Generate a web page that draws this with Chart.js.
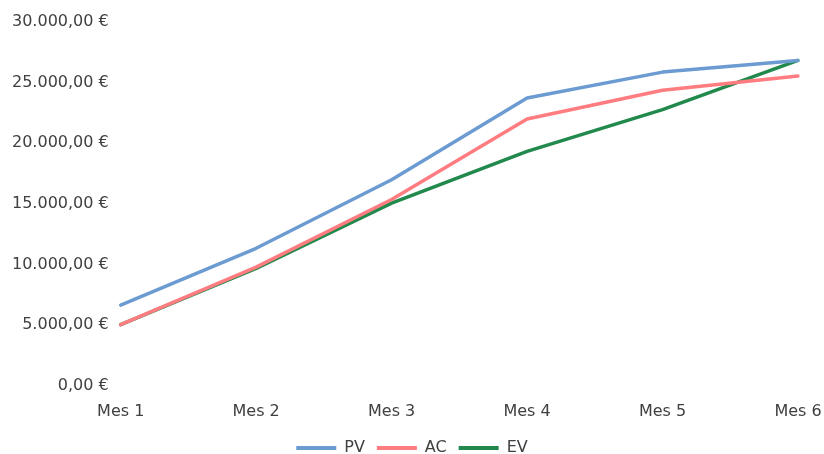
<!DOCTYPE html>
<html>
<head>
<meta charset="utf-8">
<script src="https://cdn.jsdelivr.net/npm/chart.js@4/dist/chart.umd.min.js"></script>
<style>
  html, body { margin: 0; padding: 0; background: #ffffff; }
  #wrap { width: 824px; height: 454px; position: relative; }
</style>
</head>
<body>
<div id="wrap"><canvas id="c" width="824" height="454"></canvas></div>
<script>
// Project cost tracking per month (earned value analysis)
const months = ['Mes 1', 'Mes 2', 'Mes 3', 'Mes 4', 'Mes 5', 'Mes 6'];
const pv = [6670, 11350, 17000, 23740, 25870, 26830];   // Planned Value
const ac = [5050, 9800, 15370, 22010, 24380, 25540];    // Actual Cost
const ev = [5050, 9700, 15070, 19340, 22780, 26830];    // Earned Value
const yTicks = [0, 5000, 10000, 15000, 20000, 25000, 30000];

const euro = v => v.toLocaleString('de-DE', { minimumFractionDigits: 2, maximumFractionDigits: 2 }) + ' €';

const textColor = '#404040';
const font = { family: '"DejaVu Sans", sans-serif', size: 16 };

new Chart(document.getElementById('c'), {
  type: 'line',
  data: {
    labels: months,
    datasets: [
      { label: 'PV', data: pv, borderColor: '#6c9bd2', backgroundColor: '#6c9bd2' },
      { label: 'AC', data: ac, borderColor: '#ff7c80', backgroundColor: '#ff7c80' },
      { label: 'EV', data: ev, borderColor: '#22894d', backgroundColor: '#22894d' }
    ]
  },
  options: {
    responsive: false,
    animation: false,
    devicePixelRatio: 1,
    layout: { padding: { left: 0, right: 0, top: 22, bottom: -12 } },
    elements: {
      line: { borderWidth: 3.5, tension: 0, borderCapStyle: 'round', borderJoinStyle: 'round' },
      point: { radius: 0, hoverRadius: 0 }
    },
    scales: {
      x: {
        offset: false,
        grid: { display: false, drawTicks: false },
        border: { display: false },
        ticks: { color: textColor, font: font, padding: 16, maxRotation: 0 },
        // fixed band height for the month labels; right padding sized to the last label
        afterFit: axis => { axis.height = 42; axis.paddingRight = 26; }
      },
      y: {
        min: 0,
        max: 30000,
        afterBuildTicks: axis => { axis.ticks = yTicks.map(v => ({ value: v })); },
        grid: { display: false, drawTicks: false },
        border: { display: false },
        ticks: { color: textColor, font: font, padding: 12, callback: v => euro(v) }
      }
    },
    plugins: {
      tooltip: { enabled: false },
      legend: {
        position: 'bottom',
        labels: {
          color: textColor,
          font: font,
          boxWidth: 40,
          boxHeight: 4,
          padding: 12,
          generateLabels: chart => Chart.defaults.plugins.legend.labels.generateLabels(chart).map(item => {
            item.fillStyle = item.strokeStyle;
            item.lineWidth = 0;
            return item;
          })
        }
      }
    }
  }
});
</script>
</body>
</html>
